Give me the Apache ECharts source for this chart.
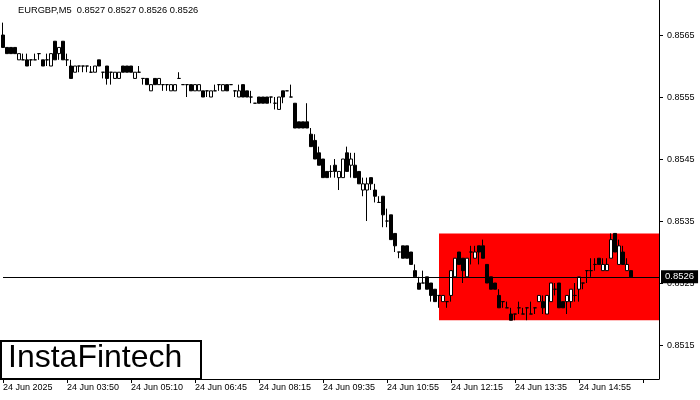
<!DOCTYPE html>
<html>
<head>
<meta charset="utf-8">
<script src="https://cdn.jsdelivr.net/npm/echarts@6/dist/echarts.min.js"></script>
<style>html,body{margin:0;padding:0;background:#fff;}#c{width:700px;height:400px;}</style>
</head>
<body>
<div id="c"></div>
<script>
const titleText = 'EURGBP,M5  0.8527 0.8527 0.8526 0.8526';
const tickLabels = ['24 Jun 2025','24 Jun 03:50','24 Jun 05:10','24 Jun 06:45','24 Jun 08:15','24 Jun 09:35','24 Jun 10:55','24 Jun 12:15','24 Jun 13:35','24 Jun 14:55'];
const priceLabels = [0.8515, 0.8525, 0.8535, 0.8545, 0.8555, 0.8565];
const opens = [
0.8565,0.8563,0.8563,0.8563,0.8561,0.8561,0.8561,0.8561,0.8561,0.8562,
0.8561,0.8561,0.8560,0.8564,0.8562,0.8564,0.8561,0.8560,0.8559,0.8560,
0.8560,0.8560,0.8559,0.8559,0.8561,0.8559,0.8560,0.8559,0.8558,0.8558,
0.8560,0.8560,0.8560,0.8558,0.8559,0.8558,0.8558,0.8556,0.8558,0.8557,
0.8557,0.8557,0.8556,0.8556,0.8558,0.8557,0.8557,0.8557,0.8556,0.8556,
0.8556,0.8556,0.8555,0.8556,0.8557,0.8556,0.8557,0.8557,0.8556,0.8555,
0.8557,0.8556,0.8555,0.8554,0.8555,0.8555,0.8555,0.8555,0.8554,0.8553,
0.8556,0.8556,0.8555,0.8554,0.8551,0.8551,0.8551,0.8549,0.8548,0.8546,
0.8545,0.8543,0.8543,0.8544,0.8542,0.8542,0.8546,0.8544,0.8544,0.8543,
0.8540,0.8540,0.8542,0.8540,0.8538,0.8539,0.8535,0.8536,0.8533,0.8530,
0.8531,0.8531,0.8530,0.8527,0.8525,0.8525,0.8526,0.8525,0.8524,0.8523,
0.8522,0.8522,0.8523,0.8526,0.8530,0.8529,0.8526,0.8530,0.8529,0.8531,
0.8531,0.8528,0.8526,0.8525,0.8523,0.8522,0.8521,0.8520,0.8520,0.8521,
0.8520,0.8521,0.8520,0.8521,0.8522,0.8522,0.8520,0.8522,0.8524,0.8525,
0.8522,0.8522,0.8522,0.8523,0.8524,0.8525,0.8527,0.8527,0.8528,0.8529,
0.8527,0.8527,0.8529,0.8533,0.8528,0.8530,0.8527,0.8527];
const closes = [
0.8563,0.8562,0.8562,0.8562,0.8562,0.8561,0.8560,0.8561,0.8561,0.8562,
0.8560,0.8561,0.8562,0.8561,0.8563,0.8561,0.8561,0.8558,0.8560,0.8560,
0.8560,0.8560,0.8559,0.8560,0.8560,0.8559,0.8558,0.8559,0.8559,0.8559,
0.8559,0.8559,0.8559,0.8559,0.8559,0.8558,0.8557,0.8557,0.8557,0.8558,
0.8557,0.8557,0.8557,0.8557,0.8558,0.8557,0.8557,0.8556,0.8557,0.8557,
0.8555,0.8556,0.8556,0.8556,0.8557,0.8557,0.8556,0.8557,0.8556,0.8556,
0.8555,0.8555,0.8555,0.8554,0.8554,0.8554,0.8554,0.8555,0.8554,0.8555,
0.8555,0.8556,0.8555,0.8550,0.8550,0.8550,0.8550,0.8547,0.8545,0.8544,
0.8542,0.8542,0.8543,0.8543,0.8543,0.8545,0.8543,0.8545,0.8542,0.8541,
0.8541,0.8541,0.8541,0.8539,0.8538,0.8536,0.8535,0.8532,0.8531,0.8530,
0.8529,0.8529,0.8528,0.8526,0.8524,0.8525,0.8524,0.8523,0.8522,0.8523,
0.8523,0.8522,0.8527,0.8529,0.8528,0.8527,0.8529,0.8530,0.8530,0.8530,
0.8529,0.8525,0.8524,0.8524,0.8521,0.8522,0.8521,0.8519,0.8520,0.8521,
0.8520,0.8521,0.8520,0.8521,0.8523,0.8521,0.8523,0.8525,0.8524,0.8521,
0.8521,0.8523,0.8524,0.8523,0.8526,0.8525,0.8527,0.8527,0.8528,0.8528,
0.8528,0.8528,0.8532,0.8530,0.8531,0.8528,0.8528,0.8526];
const lows = [
0.8563,0.8562,0.8562,0.8562,0.8561,0.8561,0.8560,0.8560,0.8561,0.8561,
0.8560,0.8560,0.8560,0.8561,0.8561,0.8561,0.8560,0.8558,0.8559,0.8559,
0.8559,0.8559,0.8559,0.8559,0.8560,0.8558,0.8557,0.8557,0.8558,0.8558,
0.8559,0.8559,0.8559,0.8558,0.8559,0.8557,0.8557,0.8556,0.8557,0.8557,
0.8556,0.8556,0.8556,0.8556,0.8558,0.8557,0.8555,0.8556,0.8556,0.8556,
0.8555,0.8555,0.8555,0.8556,0.8556,0.8556,0.8556,0.8557,0.8555,0.8555,
0.8555,0.8555,0.8554,0.8554,0.8554,0.8554,0.8554,0.8554,0.8553,0.8553,
0.8554,0.8556,0.8555,0.8550,0.8550,0.8550,0.8550,0.8547,0.8545,0.8544,
0.8542,0.8542,0.8542,0.8542,0.8540,0.8542,0.8543,0.8542,0.8542,0.8541,
0.8539,0.8535,0.8540,0.8538,0.8538,0.8534,0.8534,0.8532,0.8530,0.8529,
0.8529,0.8529,0.8528,0.8526,0.8524,0.8525,0.8524,0.8522,0.8522,0.8521,
0.8522,0.8521,0.8522,0.8526,0.8528,0.8525,0.8526,0.8528,0.8529,0.8528,
0.8529,0.8525,0.8524,0.8524,0.8521,0.8521,0.8521,0.8519,0.8519,0.8520,
0.8520,0.8519,0.8520,0.8520,0.8522,0.8520,0.8520,0.8522,0.8523,0.8521,
0.8521,0.8520,0.8521,0.8522,0.8522,0.8524,0.8525,0.8526,0.8527,0.8528,
0.8527,0.8527,0.8529,0.8530,0.8528,0.8528,0.8527,0.8526];
const highs = [
0.8567,0.8563,0.8563,0.8563,0.8562,0.8562,0.8562,0.8561,0.8562,0.8562,
0.8561,0.8562,0.8562,0.8564,0.8563,0.8564,0.8562,0.8561,0.8560,0.8560,
0.8560,0.8560,0.8560,0.8560,0.8561,0.8559,0.8560,0.8559,0.8559,0.8559,
0.8560,0.8560,0.8560,0.8559,0.8560,0.8558,0.8558,0.8557,0.8558,0.8558,
0.8557,0.8557,0.8557,0.8557,0.8559,0.8557,0.8557,0.8557,0.8557,0.8557,
0.8556,0.8556,0.8556,0.8557,0.8557,0.8557,0.8557,0.8557,0.8556,0.8557,
0.8557,0.8556,0.8556,0.8554,0.8555,0.8555,0.8555,0.8555,0.8555,0.8555,
0.8556,0.8556,0.8557,0.8554,0.8551,0.8551,0.8554,0.8550,0.8549,0.8547,
0.8545,0.8543,0.8544,0.8545,0.8543,0.8545,0.8547,0.8546,0.8546,0.8543,
0.8542,0.8542,0.8542,0.8541,0.8539,0.8539,0.8537,0.8536,0.8533,0.8530,
0.8531,0.8531,0.8530,0.8528,0.8526,0.8527,0.8526,0.8525,0.8524,0.8523,
0.8523,0.8522,0.8527,0.8529,0.8530,0.8529,0.8529,0.8531,0.8531,0.8531,
0.8532,0.8528,0.8526,0.8525,0.8524,0.8522,0.8522,0.8521,0.8520,0.8522,
0.8521,0.8521,0.8522,0.8521,0.8523,0.8523,0.8523,0.8525,0.8525,0.8525,
0.8522,0.8523,0.8524,0.8525,0.8526,0.8525,0.8527,0.8529,0.8529,0.8529,
0.8529,0.8529,0.8533,0.8533,0.8532,0.8531,0.8529,0.8527];
const zoneTop = 0.8533, zoneBottom = 0.8519, zoneStartBar = 109;
const lastPrice = 0.8526;

const slots = 165;
const cats = [];
for (let i = 0; i < slots; i++) cats.push(String(i));
const ohlc = opens.map((o, i) => [o, closes[i], lows[i], highs[i]]);

const FONT = 'Liberation Sans';
const chart = echarts.init(document.getElementById('c'), null, {renderer: 'canvas'});
chart.setOption({
  animation: false,
  backgroundColor: '#ffffff',
  grid: {left: 3, right: 41, top: 0, bottom: 21, containLabel: false},
  xAxis: {
    type: 'category', data: cats, boundaryGap: false,
    axisLine: {show: true, lineStyle: {color: '#000', width: 1}},
    axisTick: {show: true, length: 4, interval: (i) => i % 16 === 0, lineStyle: {color: '#000'}},
    axisLabel: {
      show: true, interval: (i) => i % 16 === 0, align: 'left', margin: 4,
      color: '#000', fontFamily: FONT, fontSize: 9,
      formatter: (v, i) => tickLabels[Math.round(i / 16)] || ''
    },
    splitLine: {show: false}
  },
  yAxis: {
    type: 'value', position: 'right', scale: true,
    min: 0.850952, max: 0.857065,
    axisLine: {show: true, lineStyle: {color: '#000', width: 1}},
    axisTick: {show: true, inside: false, length: 4, customValues: priceLabels, lineStyle: {color: '#000'}},
    axisLabel: {show: true, margin: 8, color: '#000', fontFamily: FONT, fontSize: 9,
      customValues: priceLabels, formatter: (v) => v.toFixed(4)},
    splitLine: {show: false}
  },
  graphic: [
    {type: 'text', left: 18, top: 6, style: {text: titleText, fill: '#000', font: '9.3px "Liberation Sans"'}},
    {type: 'rect', left: 0, top: 340, shape: {x: 0, y: 0, width: 200, height: 38},
      style: {fill: '#fff', stroke: '#000', lineWidth: 2}, z: 10},
    {type: 'text', left: 8, top: 342, z: 11, style: {text: 'InstaFintech', fill: '#000', font: '32px "Liberation Sans"'}}
  ],
  series: [{
    type: 'candlestick', data: ohlc, barWidth: 3, clip: false,
    itemStyle: {color: '#ffffff', color0: '#000000', borderColor: '#000000', borderColor0: '#000000', borderWidth: 1},
    markArea: {
      silent: true,
      itemStyle: {color: '#ff0000', opacity: 1},
      data: [[{xAxis: String(zoneStartBar), yAxis: zoneTop}, {xAxis: String(slots - 1), yAxis: zoneBottom}]]
    },
    markLine: {
      silent: true, symbol: ['none', 'none'], precision: 4,
      lineStyle: {color: '#000', width: 1, type: 'solid'},
      label: {show: true, position: 'end', distance: 2, formatter: () => lastPrice.toFixed(4),
        color: '#fff', backgroundColor: '#000', padding: [2, 4, 1, 4], fontFamily: FONT, fontSize: 9.5},
      data: [[{xAxis: '0', yAxis: lastPrice}, {xAxis: String(slots - 1), yAxis: lastPrice}]]
    }
  }]
});
</script>
</body>
</html>
